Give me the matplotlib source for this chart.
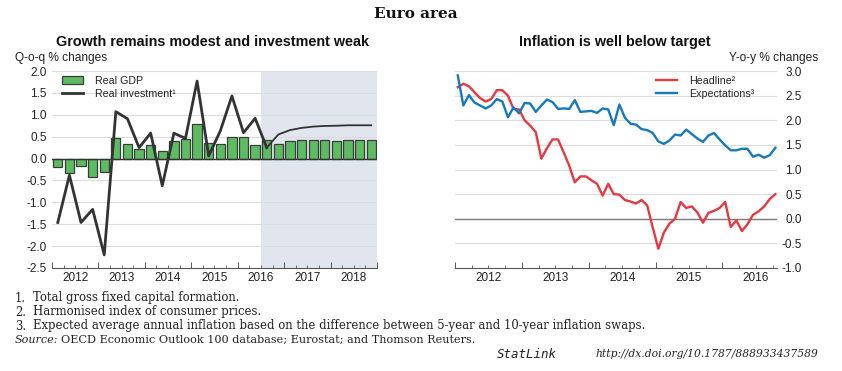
import numpy as np
import matplotlib
matplotlib.use("Agg")
import matplotlib.pyplot as plt
from matplotlib.ticker import MultipleLocator, FixedLocator, NullFormatter

plt.rcParams['font.family'] = ['Liberation Sans', 'DejaVu Sans']

# ---------------- data ----------------
# Left panel: quarterly, 2012Q1 .. 2018Q4
quarters = [f"{y}Q{q}" for y in range(2012, 2019) for q in range(1, 5)]
real_gdp = [-0.20, -0.32, -0.17, -0.43, -0.30, 0.46, 0.33, 0.21,
            0.32, 0.17, 0.40, 0.44, 0.80, 0.35, 0.33, 0.49,
            0.49, 0.31, 0.43, 0.33, 0.39, 0.42, 0.42, 0.42,
            0.40, 0.42, 0.42, 0.42]
real_investment = [-1.46, -0.38, -1.46, -1.16, -2.20, 1.07, 0.91, 0.25,
                   0.58, -0.62, 0.58, 0.46, 1.77, 0.06, 0.63, 1.43,
                   0.59, 0.92, 0.25, 0.55, 0.65, 0.70, 0.73, 0.745,
                   0.75, 0.76, 0.76, 0.76]
projection_start = "2016Q3"
left_years = ["2012", "2013", "2014", "2015", "2016", "2017", "2018"]

# Right panel: monthly, Jan 2012 .. Oct 2016
headline = [2.67, 2.74, 2.69, 2.57, 2.45, 2.38, 2.43, 2.61, 2.61, 2.50, 2.23, 2.22,
            2.00, 1.89, 1.76, 1.22, 1.43, 1.61, 1.61, 1.35, 1.08, 0.74, 0.86, 0.86,
            0.78, 0.71, 0.47, 0.71, 0.50, 0.49, 0.38, 0.35, 0.31, 0.38, 0.27, -0.18,
            -0.61, -0.28, -0.10, 0.00, 0.34, 0.22, 0.25, 0.13, -0.08, 0.12, 0.16, 0.22,
            0.34, -0.17, -0.03, -0.25, -0.11, 0.08, 0.15, 0.25, 0.40, 0.50]
expectations = [2.91, 2.30, 2.51, 2.36, 2.30, 2.24, 2.30, 2.43, 2.38, 2.06, 2.26, 2.14,
                2.35, 2.34, 2.17, 2.30, 2.42, 2.37, 2.23, 2.24, 2.23, 2.41, 2.17, 2.18,
                2.19, 2.15, 2.24, 2.22, 1.90, 2.32, 2.05, 1.93, 1.91, 1.82, 1.80, 1.74,
                1.57, 1.52, 1.59, 1.71, 1.69, 1.81, 1.72, 1.63, 1.56, 1.69, 1.74, 1.61,
                1.49, 1.39, 1.39, 1.42, 1.42, 1.26, 1.30, 1.24, 1.29, 1.44]
right_years = ["2012", "2013", "2014", "2015", "2016"]

# ---------------- styling ----------------
GREEN = "#5dbb61"
EDGE = "#3c3c3c"
DARK = "#333333"
RED = "#e8383f"
BLUE = "#1679bd"
SHADE = "#e1e5ee"
GRID = "#dcdcdc"
TXT = "#222222"
TICKFS = 8.5

W, H = 842, 371
fig = plt.figure(figsize=(W / 100, H / 100), dpi=100)


def fx(px):
    return px / W


def fy(py):
    return 1 - py / H


# ---------------- left panel ----------------
axL = fig.add_axes([fx(52), fy(268), fx(377 - 52), (268 - 71) / H])
n = len(quarters)
xq = np.arange(n) + 0.5
axL.set_xlim(0, n)
axL.set_ylim(-2.5, 2.0)
ps = quarters.index(projection_start)
axL.axvspan(ps, n, color=SHADE, lw=0, zorder=0)
for v in np.arange(-2.0, 2.01, 0.5):
    if abs(v) > 1e-9:
        axL.axhline(v, color=GRID, lw=0.8, zorder=1)
bars = axL.bar(xq, real_gdp, width=0.8, color=GREEN, edgecolor=EDGE, lw=0.9,
               zorder=2, label="Real GDP")
axL.axhline(0, color=DARK, lw=1.0, zorder=3)
inv_line, = axL.plot(xq[:ps + 1], real_investment[:ps + 1], color=DARK, lw=2.0, zorder=4,
                     label="Real investment\u00b9")
axL.plot(xq[ps:], real_investment[ps:], color=DARK, lw=1.3, zorder=4)
for s in ["top", "right", "left"]:
    axL.spines[s].set_visible(False)
axL.spines["bottom"].set_color("#555555")
axL.spines["bottom"].set_linewidth(0.8)
axL.yaxis.set_major_locator(MultipleLocator(0.5))
axL.set_yticklabels([f"{v:.1f}" for v in axL.get_yticks()])
axL.tick_params(axis="y", length=0, pad=3.6, labelsize=TICKFS, labelcolor=TXT)
axL.xaxis.set_major_locator(FixedLocator(np.arange(0, n + 1, 4)))
axL.xaxis.set_minor_locator(FixedLocator(np.arange(0, n + 1, 1)))
axL.xaxis.set_major_formatter(NullFormatter())
axL.tick_params(axis="x", which="major", direction="in", length=4, width=0.7, color="#555555")
axL.tick_params(axis="x", which="minor", direction="in", length=2, width=0.6, color="#555555")
for i, yl in enumerate(left_years):
    axL.text(4 * i + 2, -0.02, yl, transform=axL.get_xaxis_transform(),
             ha="center", va="top", fontsize=TICKFS, color=TXT)
legL = axL.legend(handles=[bars, inv_line], loc="upper left", bbox_to_anchor=(0.031, 0.975),
                  frameon=False, fontsize=7.7, handlelength=2.0, handleheight=0.75,
                  labelspacing=0.3, handletextpad=1.1, borderaxespad=0, borderpad=0)
for t in legL.get_texts():
    t.set_color(TXT)

# ---------------- right panel ----------------
axR = fig.add_axes([fx(455), fy(268), fx(777 - 455), (268 - 71) / H])
m = len(headline)
xm = 2012 + (np.arange(m) + 0.5) / 12
axR.set_xlim(2012, 2012 + 57.8 / 12)
axR.set_ylim(-1.0, 3.0)
for v in np.arange(-0.5, 3.01, 0.5):
    if abs(v) > 1e-9:
        axR.axhline(v, color=GRID, lw=0.8, zorder=1)
axR.axhline(0, color="#7a7a7a", lw=1.0, zorder=2)
axR.plot(xm, headline, color=RED, lw=1.7, zorder=3, label="Headline\u00b2")
axR.plot(xm, expectations, color=BLUE, lw=1.7, zorder=3, label="Expectations\u00b3")
for s in ["top", "right", "left"]:
    axR.spines[s].set_visible(False)
axR.spines["bottom"].set_color("#555555")
axR.spines["bottom"].set_linewidth(0.8)
axR.yaxis.tick_right()
axR.yaxis.set_major_locator(MultipleLocator(0.5))
axR.set_yticklabels([f"{v:.1f}" for v in axR.get_yticks()])
axR.tick_params(axis="y", length=0, pad=18, labelsize=TICKFS, labelcolor=TXT)
for lab in axR.get_yticklabels():
    lab.set_ha("right")
axR.xaxis.set_major_locator(FixedLocator(np.arange(2012, 2017)))
axR.xaxis.set_minor_locator(FixedLocator(np.arange(2012, 2017, 0.25)))
axR.xaxis.set_major_formatter(NullFormatter())
axR.tick_params(axis="x", which="major", direction="in", length=4, width=0.7, color="#555555")
axR.tick_params(axis="x", which="minor", direction="in", length=2, width=0.6, color="#555555")
for i, yl in enumerate(right_years):
    axR.text(2012 + i + 0.5, -0.02, yl, transform=axR.get_xaxis_transform(),
             ha="center", va="top", fontsize=TICKFS, color=TXT)
legR = axR.legend(loc="upper left", bbox_to_anchor=(0.624, 0.975), frameon=False,
                  fontsize=7.7, handlelength=2.0, labelspacing=0.3,
                  handletextpad=1.1, borderaxespad=0, borderpad=0)
for t in legR.get_texts():
    t.set_color(TXT)

# ---------------- titles and notes ----------------
fig.text(fx(416), fy(14), "Euro area", ha="center", va="center",
         family=["DejaVu Serif"], fontweight="bold", fontsize=11, color="#111111")
fig.text(fx(213), fy(42), "Growth remains modest and investment weak", ha="center", va="center",
         fontweight="bold", fontsize=10.4, color="#111111")
fig.text(fx(615), fy(42), "Inflation is well below target", ha="center", va="center",
         fontweight="bold", fontsize=10.4, color="#111111")
fig.text(fx(15), fy(58), "Q-o-q % changes", ha="left", va="center", fontsize=8.6, color=TXT)
fig.text(fx(818), fy(58), "Y-o-y % changes", ha="right", va="center", fontsize=8.6, color=TXT)

serif = ["DejaVu Serif"]
NFS = 8.4
notes = ["Total gross fixed capital formation.",
         "Harmonised index of consumer prices.",
         "Expected average annual inflation based on the difference between 5-year and 10-year inflation swaps."]
for i, note in enumerate(notes):
    y = 298 + 14 * i
    fig.text(fx(15), fy(y), f"{i + 1}.", ha="left", va="center", family=serif, fontsize=NFS, color=TXT)
    fig.text(fx(33), fy(y), note, ha="left", va="center", family=serif, fontsize=NFS, color=TXT)
fig.text(fx(15), fy(340), "Source:", ha="left", va="center", family=serif, style="italic",
         fontsize=8.0, color=TXT)
fig.text(fx(61), fy(340), "OECD Economic Outlook 100 database; Eurostat; and Thomson Reuters.",
         ha="left", va="center", family=serif, fontsize=8.15, color=TXT)
fig.text(fx(497), fy(354), "StatLink", ha="left", va="center",
         family=["DejaVu Sans Mono"], style="italic", fontsize=9, color=TXT)
fig.text(fx(818), fy(354), "http://dx.doi.org/10.1787/888933437589", ha="right", va="center",
         family=serif, style="italic", fontsize=7.75, color=TXT)

fig.savefig("out.png", dpi=100)
